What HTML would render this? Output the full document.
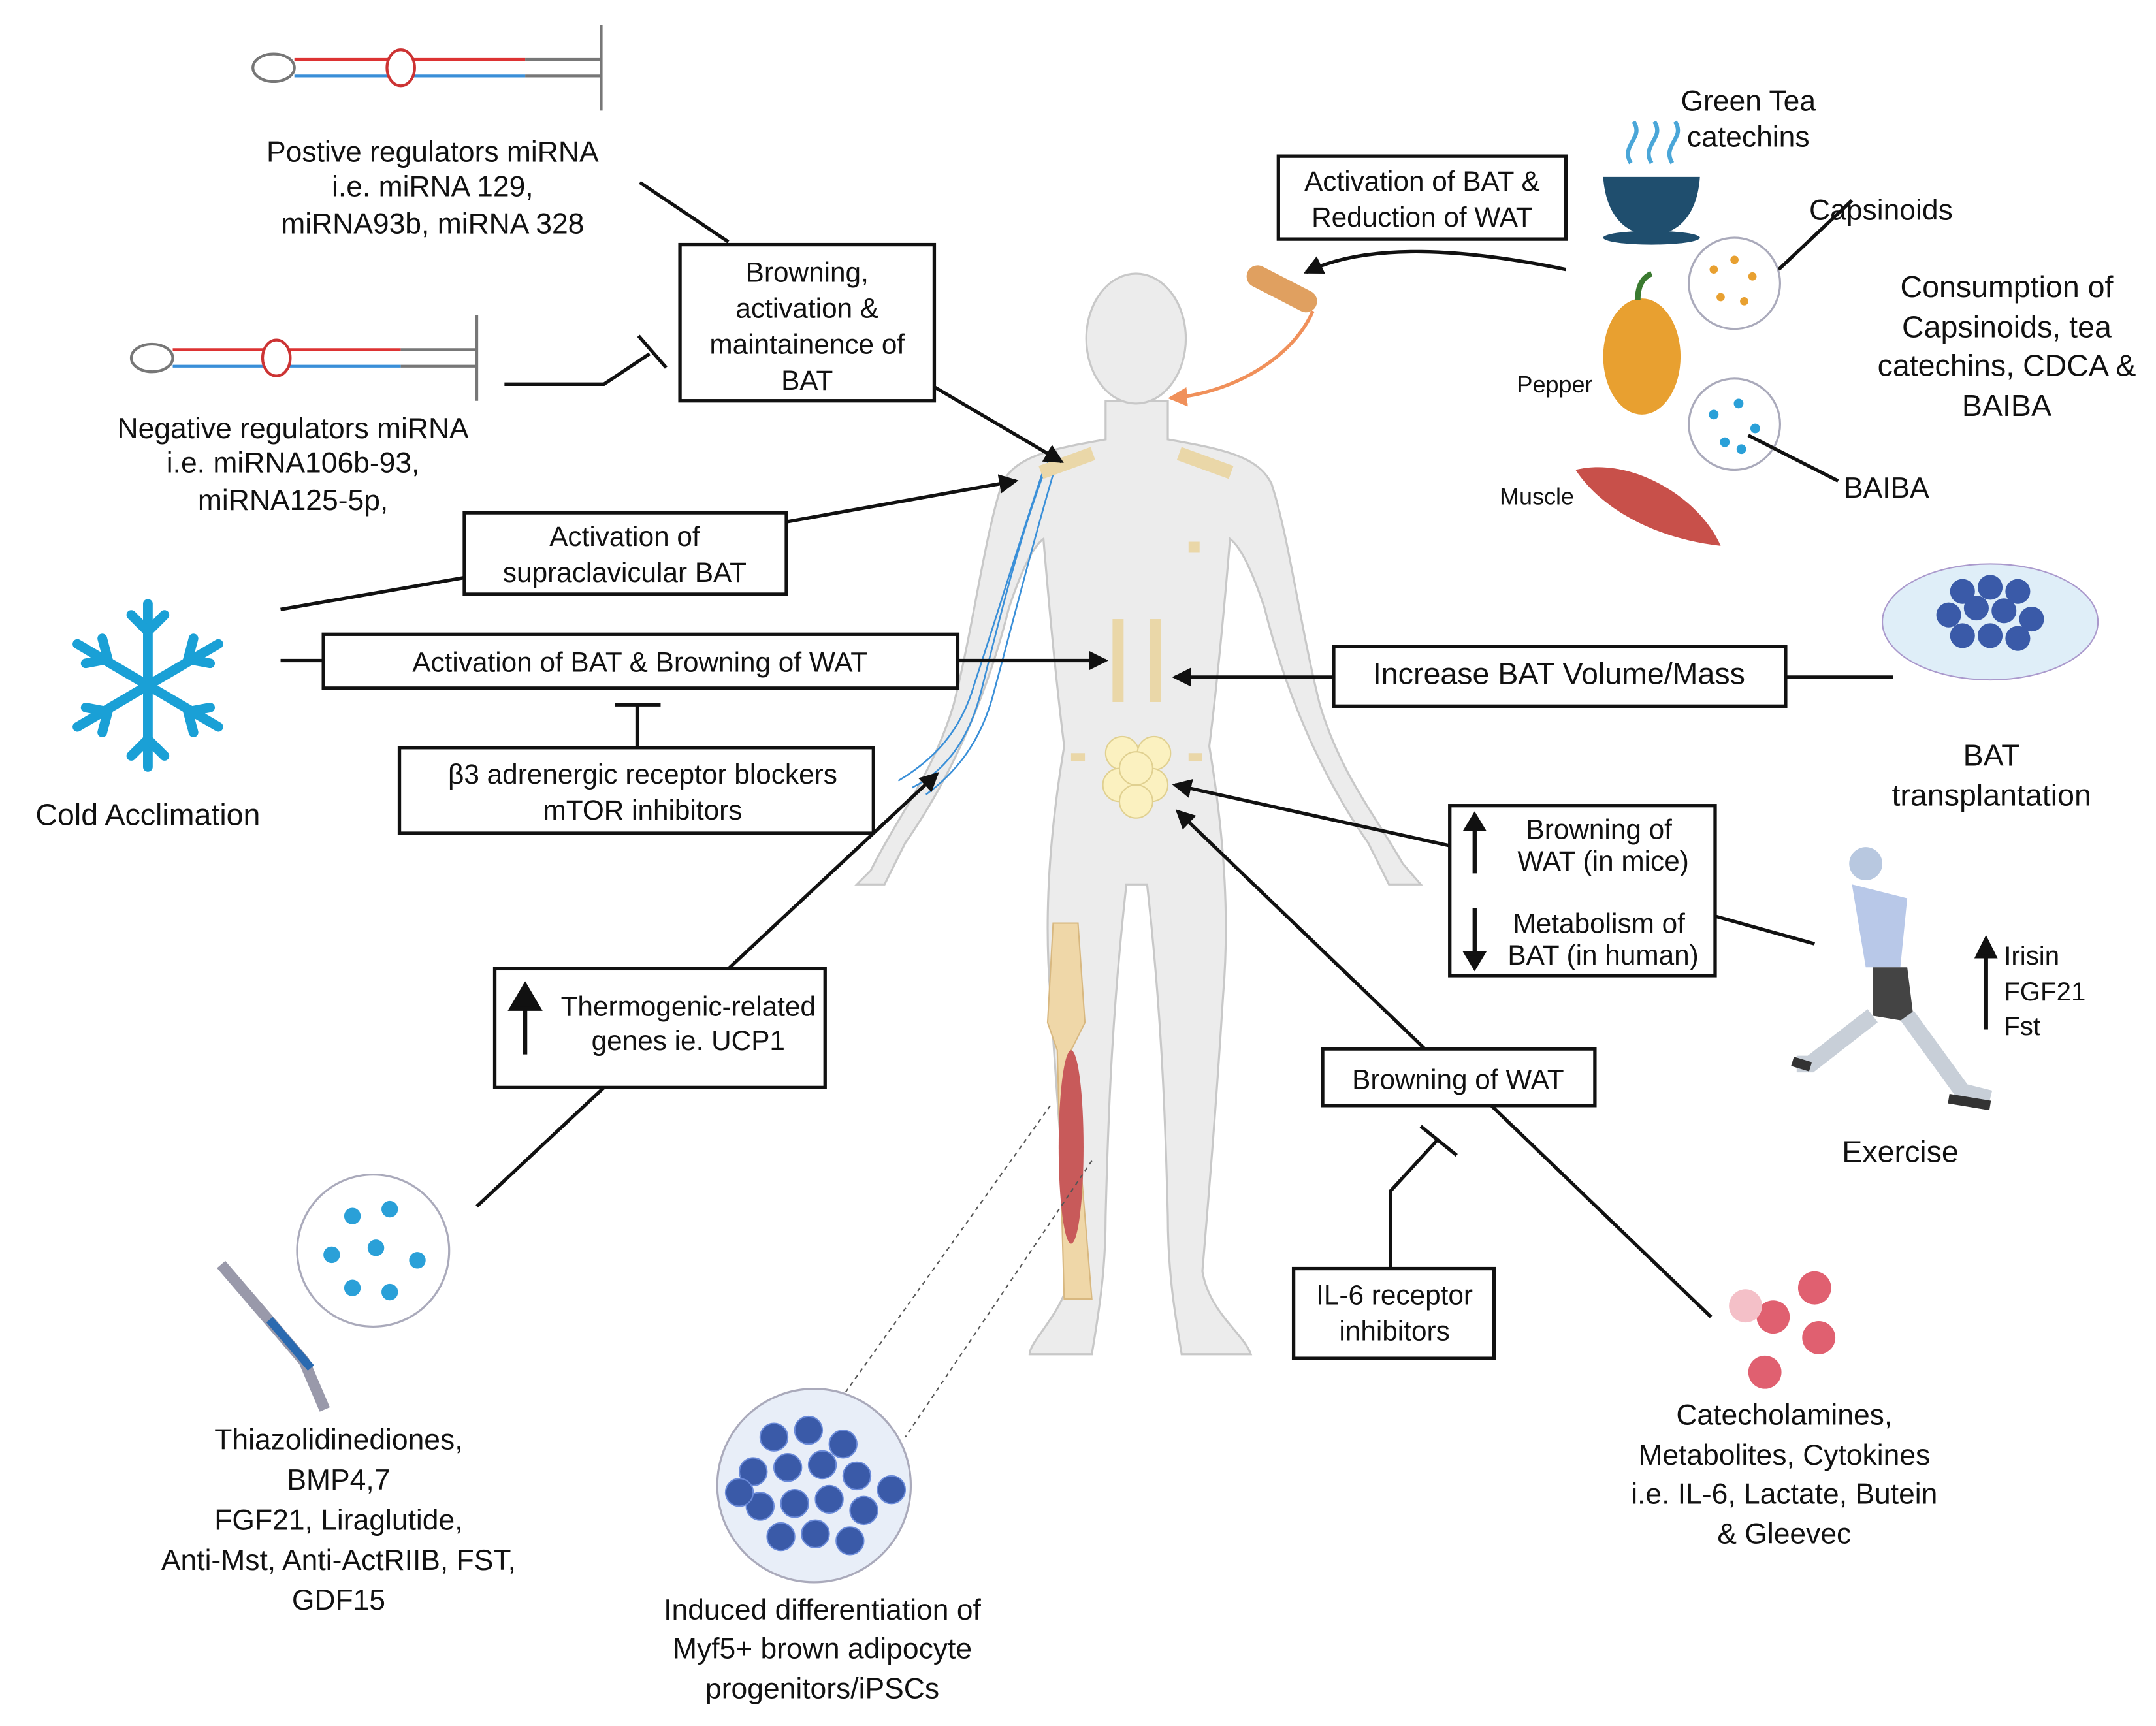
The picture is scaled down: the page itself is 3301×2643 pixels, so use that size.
<!DOCTYPE html>
<html><head><meta charset="utf-8"><style>
html,body{margin:0;padding:0;background:#fff;}
svg{display:block;}
text{font-family:"Liberation Sans",sans-serif;fill:#111;}
</style></head><body>
<svg width="3301" height="2643" viewBox="0 0 1560 1249" xmlns="http://www.w3.org/2000/svg">
<defs>
<marker id="ar" markerWidth="8" markerHeight="8" refX="7" refY="4" orient="auto" markerUnits="userSpaceOnUse" viewBox="0 0 8 8"><path d="M0,0 L8,4 L0,8 z" fill="#111"/></marker>
<marker id="ar2" markerWidth="14" markerHeight="14" refX="12" refY="7" orient="auto" markerUnits="userSpaceOnUse"><path d="M0,0 L14,7 L0,14 z" fill="#111"/></marker>
<marker id="aro" markerWidth="14" markerHeight="14" refX="12" refY="7" orient="auto" markerUnits="userSpaceOnUse"><path d="M0,0 L14,7 L0,14 z" fill="#f0905a"/></marker>
</defs>
<rect width="1560" height="1249" fill="#fff"/>

<!-- Human body -->
<g fill="#ececec" stroke="#c8c8c8" stroke-width="1.5">
<path d="M800,290 L800,318 C760,325 735,330 725,350 C712,390 705,450 690,510 C675,560 650,590 630,630 L620,640 L640,640 L655,610 C690,560 715,500 730,440 C740,410 748,395 755,390 C760,450 765,500 770,540 C760,600 755,660 760,720 C765,800 770,860 775,920 C770,950 745,970 745,980 L790,980 C795,950 800,920 800,880 C802,800 805,730 815,640 L830,640 C840,730 843,800 845,880 C845,920 850,950 855,980 L905,980 C900,965 875,950 870,920 C875,860 880,800 885,720 C890,660 885,600 875,540 C880,500 885,450 890,390 C897,395 905,410 915,440 C930,500 955,560 990,610 L1005,640 L1028,640 L1015,625 C995,590 970,560 955,510 C940,450 933,390 920,350 C910,330 885,325 845,318 L845,290 Z"/>
<ellipse cx="822" cy="245" rx="36" ry="47"/>
</g>
<!-- nerves arm -->
<g stroke="#3a8fd8" stroke-width="1.2" fill="none">
<path d="M760,330 C740,380 725,440 710,500 C700,540 680,560 660,570"/>
<path d="M765,333 C748,390 733,450 718,505 C708,540 690,560 670,575"/>
<path d="M755,340 C735,400 720,450 705,495 C695,530 675,550 650,565"/>
</g>
<!-- BAT patches -->
<g fill="#ead7a8">
<rect x="752" y="330" width="40" height="10" transform="rotate(-20 772 335)"/>
<rect x="852" y="330" width="40" height="10" transform="rotate(20 872 335)"/>
<rect x="805" y="448" width="8" height="60"/><rect x="832" y="448" width="8" height="60"/>
<rect x="860" y="392" width="8" height="8"/><rect x="775" y="545" width="10" height="6"/><rect x="860" y="545" width="10" height="6"/>
</g>
<g fill="#fbf1c0" stroke="#e0d090"><circle cx="812" cy="545" r="12"/><circle cx="835" cy="545" r="12"/><circle cx="810" cy="568" r="12"/><circle cx="833" cy="568" r="12"/><circle cx="822" cy="556" r="12"/><circle cx="822" cy="580" r="12"/></g>
<!-- leg bone/muscle -->
<path d="M762,668 L780,668 L785,740 L775,760 L790,940 L770,940 L765,760 L758,740 Z" fill="#efd7a8" stroke="#d8b880"/>
<ellipse cx="775" cy="830" rx="9" ry="70" fill="#c85a5a"/>

<!-- Snowflake -->
<g stroke="#1aa0d6" stroke-width="7" stroke-linecap="round" fill="none">
<line x1="107" y1="437" x2="107" y2="555"/><line x1="56" y1="466" x2="158" y2="526"/><line x1="56" y1="526" x2="158" y2="466"/>
<path d="M95,445 L107,457 L119,445 M95,547 L107,535 L119,547 M62,480 L78,477 L74,462 M152,512 L136,515 L140,530 M62,512 L78,515 L74,530 M152,480 L136,477 L140,462"/>
</g>

<!-- miRNA hairpins -->
<g fill="none" stroke-width="2">
<ellipse cx="198" cy="49" rx="15" ry="10" stroke="#777"/>
<line x1="213" y1="43" x2="380" y2="43" stroke="#d33"/><line x1="213" y1="55" x2="380" y2="55" stroke="#3a8fd8"/>
<ellipse cx="290" cy="49" rx="10" ry="13" stroke="#c33" fill="#fff"/>
<line x1="380" y1="43" x2="435" y2="43" stroke="#777"/><line x1="380" y1="55" x2="435" y2="55" stroke="#777"/><line x1="435" y1="18" x2="435" y2="80" stroke="#777"/>
<ellipse cx="110" cy="259" rx="15" ry="10" stroke="#777"/>
<line x1="125" y1="253" x2="290" y2="253" stroke="#d33"/><line x1="125" y1="265" x2="290" y2="265" stroke="#3a8fd8"/>
<ellipse cx="200" cy="259" rx="10" ry="13" stroke="#c33" fill="#fff"/>
<line x1="290" y1="253" x2="345" y2="253" stroke="#777"/><line x1="290" y1="265" x2="345" y2="265" stroke="#777"/><line x1="345" y1="228" x2="345" y2="290" stroke="#777"/>
</g>

<!-- tea / pepper / muscle / circles -->
<path d="M1160,128 L1230,128 C1228,158 1212,170 1195,170 C1178,170 1162,158 1160,128 Z" fill="#1f4e6e"/>
<ellipse cx="1195" cy="172" rx="35" ry="5" fill="#1f4e6e"/>
<path d="M1180,118 C1172,105 1190,100 1182,88 M1195,118 C1187,105 1205,100 1197,88 M1210,118 C1202,105 1220,100 1212,88" stroke="#4aa6d8" stroke-width="3" fill="none"/>
<ellipse cx="1188" cy="258" rx="28" ry="42" fill="#e8a030"/>
<path d="M1185,217 C1185,205 1190,200 1195,198" stroke="#3a7a30" stroke-width="4" fill="none"/>
<path d="M1140,340 C1180,330 1230,360 1245,395 C1200,390 1160,370 1140,340 Z" fill="#c8504a"/>
<g fill="#fff" stroke="#aab" stroke-width="1.5"><circle cx="1255" cy="205" r="33"/><circle cx="1255" cy="307" r="33"/><circle cx="589" cy="1075" r="70" fill="#e8eef8"/><circle cx="270" cy="905" r="55"/></g>
<g fill="#e8a030"><circle cx="1240" cy="195" r="3"/><circle cx="1255" cy="188" r="3"/><circle cx="1268" cy="200" r="3"/><circle cx="1245" cy="215" r="3"/><circle cx="1262" cy="218" r="3"/></g>
<g fill="#2aa0d8"><circle cx="1240" cy="300" r="3.5"/><circle cx="1258" cy="292" r="3.5"/><circle cx="1270" cy="310" r="3.5"/><circle cx="1248" cy="320" r="3.5"/><circle cx="1260" cy="325" r="3.5"/>
<circle cx="255" cy="880" r="6"/><circle cx="282" cy="875" r="6"/><circle cx="240" cy="908" r="6"/><circle cx="272" cy="903" r="6"/><circle cx="302" cy="912" r="6"/><circle cx="255" cy="932" r="6"/><circle cx="282" cy="935" r="6"/></g>
<path d="M910,200 L945,218" stroke="#e0a060" stroke-width="16" stroke-linecap="round"/>
<!-- petri dish -->
<ellipse cx="1440" cy="450" rx="78" ry="42" fill="#dfeef8" stroke="#a9c"/>
<g fill="#3a5aa8"><circle cx="1410" cy="445" r="9"/><circle cx="1430" cy="440" r="9"/><circle cx="1450" cy="442" r="9"/><circle cx="1470" cy="448" r="9"/><circle cx="1420" cy="460" r="9"/><circle cx="1440" cy="460" r="9"/><circle cx="1460" cy="462" r="9"/><circle cx="1440" cy="425" r="9"/><circle cx="1420" cy="428" r="9"/><circle cx="1460" cy="428" r="9"/></g>
<!-- cells -->
<g fill="#3a5aa8" stroke="#6a8ad8"><circle cx="560" cy="1040" r="10"/><circle cx="585" cy="1035" r="10"/><circle cx="610" cy="1045" r="10"/><circle cx="545" cy="1065" r="10"/><circle cx="570" cy="1062" r="10"/><circle cx="595" cy="1060" r="10"/><circle cx="620" cy="1068" r="10"/><circle cx="645" cy="1078" r="10"/><circle cx="550" cy="1090" r="10"/><circle cx="575" cy="1088" r="10"/><circle cx="600" cy="1085" r="10"/><circle cx="625" cy="1093" r="10"/><circle cx="565" cy="1112" r="10"/><circle cx="590" cy="1110" r="10"/><circle cx="615" cy="1115" r="10"/><circle cx="535" cy="1080" r="10"/></g>
<g stroke="#555" stroke-dasharray="3,3" fill="none"><line x1="760" y1="800" x2="610" y2="1010"/><line x1="790" y1="840" x2="655" y2="1040"/></g>
<!-- red circles -->
<g fill="#e06070"><circle cx="1313" cy="932" r="12"/><circle cx="1283" cy="953" r="12"/><circle cx="1316" cy="968" r="12"/><circle cx="1277" cy="993" r="12"/></g><circle cx="1263" cy="945" r="12" fill="#f4c0c8"/>
<!-- syringe -->
<path d="M160,915 L220,985 L235,1020" stroke="#99a" stroke-width="8" fill="none"/>
<path d="M195,955 L225,990" stroke="#2a6ab0" stroke-width="6"/>
<!-- runner -->
<circle cx="1350" cy="625" r="12" fill="#b8c8e0"/>
<path d="M1340,640 L1380,650 L1375,700 L1350,700 Z" fill="#b8c8e8"/>
<path d="M1355,700 L1380,700 L1385,740 L1355,735 Z" fill="#444"/>
<path d="M1355,735 L1310,770 L1300,770 M1380,735 L1420,790 L1440,795" stroke="#c8cfd8" stroke-width="12" fill="none"/>
<path d="M1297,768 L1310,772 M1410,795 L1440,800" stroke="#333" stroke-width="7"/>

<!-- Connectors -->
<g stroke="#111" stroke-width="2.5" fill="none">
<line x1="463" y1="132" x2="527" y2="175"/>
<path d="M365,278 L437,278 L470,256"/><line x1="462" y1="243" x2="482" y2="266"/>
<line x1="676" y1="280" x2="768" y2="334" marker-end="url(#ar2)"/>
<line x1="567" y1="378" x2="735" y2="348" marker-end="url(#ar2)"/>
<line x1="203" y1="441" x2="336" y2="418"/>
<line x1="203" y1="478" x2="234" y2="478"/>
<line x1="693" y1="478" x2="800" y2="478" marker-end="url(#ar2)"/>
<line x1="461" y1="510" x2="461" y2="541"/><line x1="445" y1="510" x2="478" y2="510"/>
<line x1="1292" y1="490" x2="1370" y2="490"/>
<line x1="965" y1="490" x2="850" y2="490" marker-end="url(#ar2)"/>
<line x1="1049" y1="612" x2="850" y2="568" marker-end="url(#ar2)"/>
<line x1="1241" y1="663" x2="1313" y2="683"/>
<line x1="1031" y1="759" x2="852" y2="587" marker-end="url(#ar2)"/>
<line x1="1079" y1="800" x2="1238" y2="953"/>
<path d="M1006,918 L1006,862 L1040,825"/><line x1="1028" y1="815" x2="1054" y2="836"/>
<line x1="527" y1="701" x2="678" y2="560" marker-end="url(#ar2)"/>
<line x1="437" y1="787" x2="345" y2="873"/>
<path d="M1133,195 C1060,180 990,175 945,197" marker-end="url(#ar2)"/>
<line x1="1287" y1="195" x2="1340" y2="145"/>
<line x1="1265" y1="315" x2="1330" y2="348"/>
</g>
<path d="M950,225 C935,260 890,285 847,288" stroke="#f0905a" stroke-width="2.5" fill="none" marker-end="url(#aro)"/>

<!-- Boxes -->
<g fill="#fff" stroke="#111" stroke-width="2.5">
<rect x="492" y="177" width="184" height="113"/>
<rect x="925" y="113" width="208" height="60"/>
<rect x="336" y="371" width="233" height="59"/>
<rect x="234" y="459" width="459" height="39"/>
<rect x="289" y="541" width="343" height="62"/>
<rect x="965" y="468" width="327" height="43"/>
<rect x="1049" y="583" width="192" height="123"/>
<rect x="358" y="701" width="239" height="86"/>
<rect x="957" y="759" width="197" height="41"/>
<rect x="936" y="918" width="145" height="65"/>
</g>
<g stroke="#111" stroke-width="3" fill="#111">
<line x1="1067" y1="632" x2="1067" y2="595"/><path d="M1061,600 L1067,590 L1073,600Z"/>
<line x1="1067" y1="657" x2="1067" y2="695"/><path d="M1061,690 L1067,700 L1073,690Z"/>
<line x1="380" y1="763" x2="380" y2="725"/><path d="M370,730 L380,713 L390,730Z"/>
<line x1="1437" y1="745" x2="1437" y2="688"/><path d="M1431,692 L1437,680 L1443,692Z"/>
</g>

<!-- Box text -->
<g font-size="20" text-anchor="middle">
<text x="584" y="204">Browning,</text><text x="584" y="230">activation &amp;</text><text x="584" y="256">maintainence of</text><text x="584" y="282">BAT</text>
<text x="1029" y="138">Activation of BAT &amp;</text><text x="1029" y="164">Reduction of WAT</text>
<text x="452" y="395">Activation of</text><text x="452" y="421">supraclavicular BAT</text>
<text x="463" y="486">Activation of BAT &amp; Browning of WAT</text>
<text x="465" y="567">β3 adrenergic receptor blockers</text><text x="465" y="593">mTOR inhibitors</text>
<text x="1128" y="495" font-size="22">Increase BAT Volume/Mass</text>
<text x="1157" y="607">Browning of</text><text x="1160" y="630">WAT (in mice)</text>
<text x="1157" y="675">Metabolism of</text><text x="1160" y="698">BAT (in human)</text>
<text x="498" y="735">Thermogenic-related</text><text x="498" y="760">genes ie. UCP1</text>
<text x="1055" y="788">Browning of WAT</text>
<text x="1009" y="944">IL-6 receptor</text><text x="1009" y="970">inhibitors</text>
</g>
<!-- Free text -->
<g font-size="21" text-anchor="middle">
<text x="313" y="117">Postive regulators miRNA</text><text x="313" y="142">i.e. miRNA 129,</text><text x="313" y="169">miRNA93b, miRNA 328</text>
<text x="212" y="317">Negative regulators miRNA</text><text x="212" y="342">i.e. miRNA106b-93,</text><text x="212" y="369">miRNA125-5p,</text>
<text x="107" y="597" font-size="22">Cold Acclimation</text>
<text x="1265" y="80">Green Tea</text><text x="1265" y="106">catechins</text>
<text x="1361" y="159">Capsinoids</text>
<text x="1452" y="215" font-size="22">Consumption of</text><text x="1452" y="244" font-size="22">Capsinoids, tea</text><text x="1452" y="272" font-size="22">catechins, CDCA &amp;</text><text x="1452" y="301" font-size="22">BAIBA</text>
<text x="1125" y="284" font-size="17">Pepper</text><text x="1112" y="365" font-size="17">Muscle</text>
<text x="1365" y="360">BAIBA</text>
<text x="1441" y="554" font-size="22">BAT</text><text x="1441" y="583" font-size="22">transplantation</text>
<text x="1375" y="841" font-size="22">Exercise</text>
<text x="1291" y="1031">Catecholamines,</text><text x="1291" y="1060">Metabolites, Cytokines</text><text x="1291" y="1088">i.e. IL-6, Lactate, Butein</text><text x="1291" y="1117">&amp; Gleevec</text>
<text x="245" y="1049">Thiazolidinediones,</text><text x="245" y="1078">BMP4,7</text><text x="245" y="1107">FGF21, Liraglutide,</text><text x="245" y="1136">Anti-Mst, Anti-ActRIIB, FST,</text><text x="245" y="1165">GDF15</text>
<text x="595" y="1172">Induced differentiation of</text><text x="595" y="1200">Myf5+ brown adipocyte</text><text x="595" y="1229">progenitors/iPSCs</text>
</g>
<g font-size="19"><text x="1450" y="698">Irisin</text><text x="1450" y="724">FGF21</text><text x="1450" y="749">Fst</text></g>
</svg>
</body></html>
